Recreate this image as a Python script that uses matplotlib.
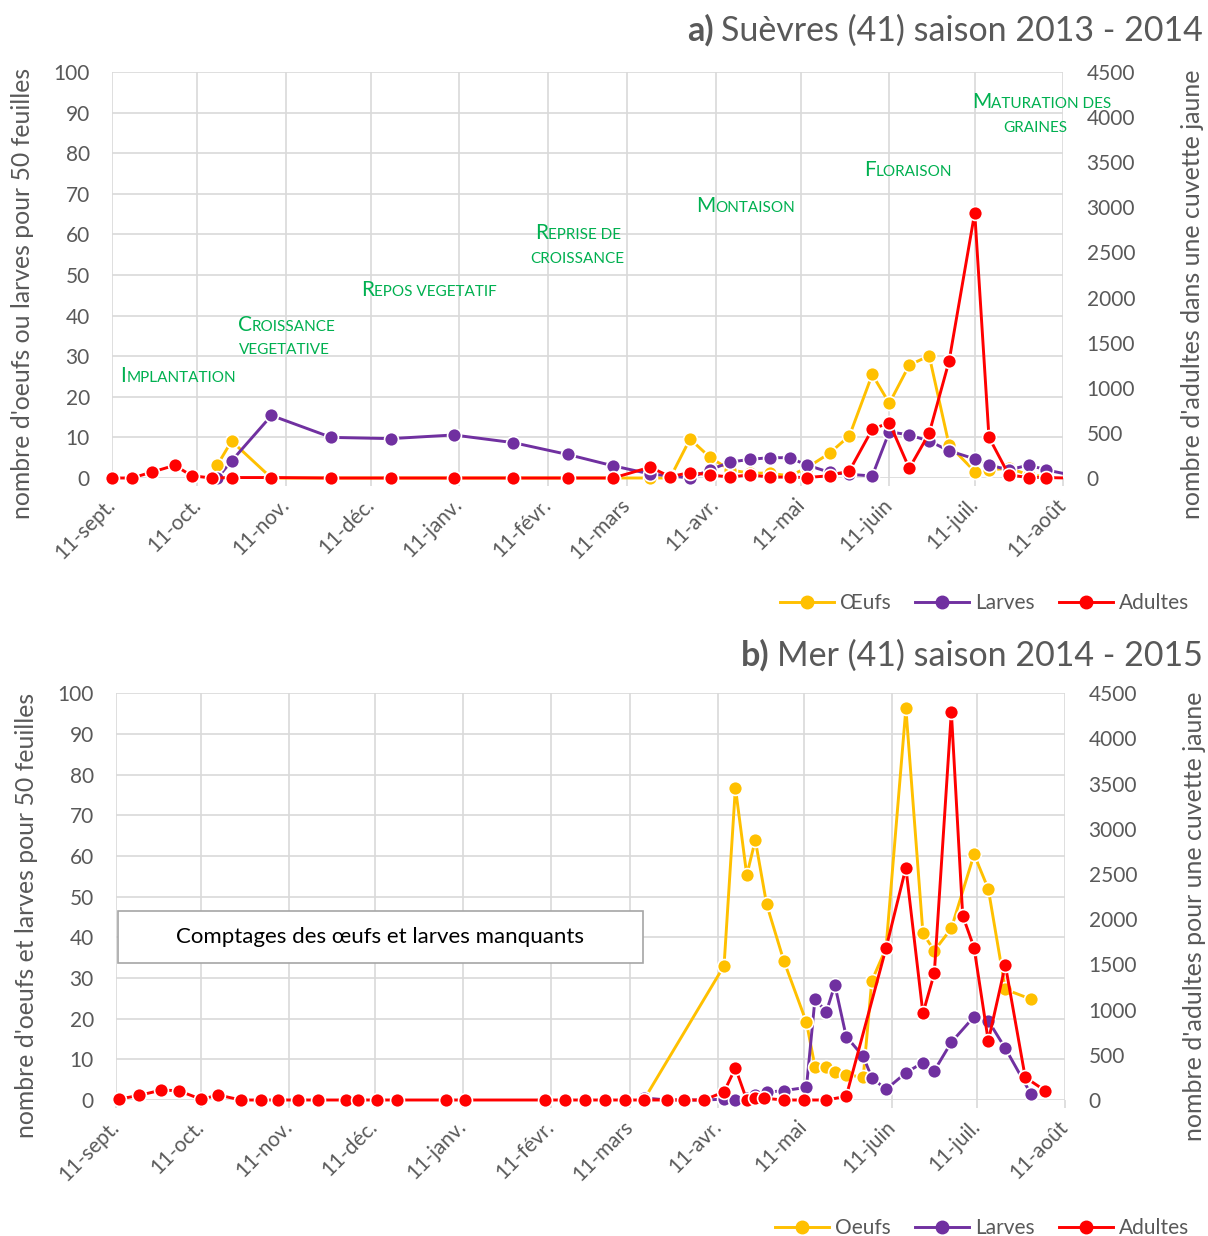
import numpy as np
import pandas as pd
import matplotlib.pyplot as plt
from matplotlib.lines import Line2D
from matplotlib.patches import Rectangle
from matplotlib.transforms import Bbox, TransformedBbox

plt.rcParams['font.family'] = ['Lato', 'DejaVu Sans']

GRIS = '#595959'
JAUNE = '#FFC000'
VIOLET = '#7030A0'
ROUGE = '#FF0000'
VERT = '#00B050'
GRILLE = '#D9D9D9'

mois = ['11-sept.', '11-oct.', '11-nov.', '11-déc.', '11-janv.', '11-févr.',
        '11-mars', '11-avr.', '11-mai', '11-juin', '11-juil.', '11-août']

# ---- a) Suèvres 2013 - 2014
a_oeufs_dates = ['2013-10-18', '2013-10-23', '2013-11-06', '2013-11-27', '2013-12-18', '2014-01-09',
                 '2014-01-30', '2014-02-18', '2014-03-06', '2014-03-19', '2014-03-26', '2014-04-02',
                 '2014-04-09', '2014-04-16', '2014-04-23', '2014-04-30', '2014-05-07', '2014-05-13',
                 '2014-05-21', '2014-05-28', '2014-06-05', '2014-06-11', '2014-06-18', '2014-06-25',
                 '2014-07-02', '2014-07-11', '2014-07-16', '2014-07-23', '2014-07-30', '2014-08-05']
a_oeufs = [3.2, 9.1, 0, 0, 0, 0, 0, 0, 0, 0, 0, 9.6, 5.1, 2.0, 1.2, 1.2, 0.5, 2.5,
           6.1, 10.4, 25.5, 18.4, 27.8, 30.1, 8.1, 1.6, 2.0, 2.4, 0.8, 0.3]

a_larves_dates = a_oeufs_dates + ['2014-08-12']
a_larves = [0, 4.2, 15.4, 10.0, 9.7, 10.6, 8.7, 5.8, 3.0, 1.0, 0.5, 0, 2.0, 3.9, 4.6, 5.0, 5.0, 3.2,
            1.4, 0.9, 0.5, 11.4, 10.6, 9.1, 6.7, 4.7, 3.2, 2.0, 3.2, 2.0, 1.0]

a_adultes_dates = ['2013-09-11', '2013-09-18', '2013-09-25', '2013-10-03', '2013-10-09', '2013-10-16',
                   '2013-10-23', '2013-11-06', '2013-11-27', '2013-12-18', '2014-01-09', '2014-01-30',
                   '2014-02-18', '2014-03-06', '2014-03-19', '2014-03-26', '2014-04-02', '2014-04-09',
                   '2014-04-16', '2014-04-23', '2014-04-30', '2014-05-07', '2014-05-13', '2014-05-21',
                   '2014-05-28', '2014-06-05', '2014-06-11', '2014-06-18', '2014-06-25', '2014-07-02',
                   '2014-07-11', '2014-07-16', '2014-07-23', '2014-07-30', '2014-08-05', '2014-08-12']
a_adultes = [0, 0, 65, 140, 25, 0, 5, 5, 0, 0, 0, 0, 0, 0, 120, 15, 60, 35, 10, 35, 10, 10,
             5, 25, 80, 540, 613, 107, 495, 1297, 2941, 451, 33, 5, 5, 0]

# ---- b) Mer 2014 - 2015
b_oeufs_dates = ['2015-03-16', '2015-04-13', '2015-04-17', '2015-04-21', '2015-04-24', '2015-04-28',
                 '2015-05-04', '2015-05-12', '2015-05-15', '2015-05-19', '2015-05-22', '2015-05-26',
                 '2015-06-01', '2015-06-04', '2015-06-09', '2015-06-16', '2015-06-22', '2015-06-26',
                 '2015-07-02', '2015-07-10', '2015-07-15', '2015-07-21', '2015-07-30']
b_oeufs = [0.3, 33.0, 76.8, 55.3, 63.9, 48.1, 34.3, 19.1, 8.2, 8.2, 7.0, 6.1,
           5.7, 29.3, 37.3, 96.3, 41.0, 36.7, 42.2, 60.4, 51.9, 27.2, 24.8]

b_larves_dates = ['2015-03-16', '2015-03-24', '2015-03-30', '2015-04-06', '2015-04-13', '2015-04-17',
                  '2015-04-21', '2015-04-24', '2015-04-28', '2015-05-04', '2015-05-12', '2015-05-15',
                  '2015-05-19', '2015-05-22', '2015-05-26', '2015-06-01', '2015-06-04', '2015-06-09',
                  '2015-06-16', '2015-06-22', '2015-06-26', '2015-07-02', '2015-07-10', '2015-07-15',
                  '2015-07-21', '2015-07-30']
b_larves = [0.5, 0, 0, 0, 0.2, 0, 0.5, 1.2, 1.9, 2.3, 3.1, 24.8, 21.7, 28.3, 15.6, 10.7,
            5.5, 2.6, 6.7, 9.2, 7.2, 14.2, 20.5, 19.5, 12.7, 1.5]

b_adultes_dates = ['2014-09-12', '2014-09-19', '2014-09-27', '2014-10-03', '2014-10-11', '2014-10-17',
                   '2014-10-25', '2014-11-01', '2014-11-07', '2014-11-14', '2014-11-21', '2014-12-01',
                   '2014-12-05', '2014-12-12', '2014-12-19', '2015-01-05', '2015-01-12', '2015-02-09',
                   '2015-02-16', '2015-02-23', '2015-03-02', '2015-03-09', '2015-03-16', '2015-03-24',
                   '2015-03-30', '2015-04-06', '2015-04-13', '2015-04-17', '2015-04-21', '2015-04-24',
                   '2015-04-27', '2015-05-04', '2015-05-11', '2015-05-19', '2015-05-26', '2015-06-09',
                   '2015-06-16', '2015-06-22', '2015-06-26', '2015-07-02', '2015-07-06', '2015-07-10',
                   '2015-07-15', '2015-07-21', '2015-07-28', '2015-08-04']
b_adultes = [10, 50, 110, 103, 8, 55] + [0] * 20 + [90, 355, 0, 20, 20, 0, 0, 0, 40,
             1678, 2570, 959, 1401, 4295, 2039, 1685, 653, 1493, 251, 103]

W, H = 1208, 1236
fig = plt.figure(figsize=(W / 100, H / 100), dpi=100)


def serie(ax, dates, vals, couleur, fin):
    d = pd.to_datetime(dates)
    v = np.array(vals, dtype=float)
    ligne, = ax.plot(d, v, '-', color=couleur, lw=2.1, zorder=3)
    ligne.set_clip_box(TransformedBbox(Bbox([[0, -0.1], [1, 1.1]]), ax.transAxes))
    ok = d <= fin
    ax.plot(d[ok], v[ok], 'o', color=couleur, ms=10, mec='white', mew=1.2,
            clip_on=False, zorder=4)


def panneau(rect, debut, oeufs, larves, adultes, lab_g, lab_d, lab_oeufs, leg_y):
    ax = fig.add_axes(rect)
    axr = ax.twinx()
    deb = pd.Timestamp(debut)
    ticks = pd.date_range(deb, periods=12, freq=pd.DateOffset(months=1))
    fin = ticks[-1]
    serie(ax, *oeufs, JAUNE, fin)
    serie(ax, *larves, VIOLET, fin)
    serie(axr, *adultes, ROUGE, fin)
    for a in (ax, axr):
        a.set_xlim(deb, fin)
        for s in a.spines.values():
            s.set_visible(False)
    ax.set_ylim(0, 100)
    ax.set_yticks(range(0, 101, 10))
    axr.set_ylim(0, 4500)
    axr.set_yticks(range(0, 4501, 500))
    ax.set_xticks(ticks)
    ax.set_xticklabels(mois, rotation=45, ha='right', va='center', rotation_mode='anchor')
    ax.grid(True, color=GRILLE, lw=1.2)
    ax.set_axisbelow(True)
    ax.tick_params(axis='x', length=6, color=GRILLE, width=1.2, pad=11, labelsize=15, labelcolor=GRIS)
    ax.tick_params(axis='y', length=0, pad=16, labelsize=15, labelcolor=GRIS)
    axr.tick_params(axis='y', length=0, pad=17, labelsize=15, labelcolor=GRIS)
    ax.set_ylabel(lab_g, fontsize=17.8, color=GRIS)
    axr.set_ylabel(lab_d, fontsize=18, color=GRIS)
    ax.yaxis.set_label_coords(-0.082, 0.455)
    axr.yaxis.set_label_coords(1.124, 0.452)
    poignees = [Line2D([], [], color=c, lw=2.1, marker='o', ms=9, mec=c) for c in (JAUNE, VIOLET, ROUGE)]
    fig.legend(poignees, [lab_oeufs, 'Larves', 'Adultes'], ncol=3, frameon=False,
               loc='center right', bbox_to_anchor=(1200 / W, 1 - leg_y / H),
               fontsize=15, labelcolor=GRIS, handlelength=2.6, handletextpad=0.3,
               columnspacing=1.15, borderpad=0)
    return ax


def titre(lettre, texte, y):
    t = fig.text(1203 / W, 1 - y / H, texte, ha='right', va='baseline', fontsize=24.5, color=GRIS)
    w = t.get_window_extent(renderer=fig.canvas.get_renderer()).width
    fig.text(1203 / W - (w + 8) / W, 1 - y / H, lettre, ha='right', va='baseline',
             fontsize=24.5, color=GRIS, fontweight='bold')


def petites_caps(ax, x, y, texte, premiere=True):
    if premiere:
        t = ax.text(x, y, texte[0], transform=ax.transAxes, fontsize=15, color=VERT, va='baseline')
        w = t.get_window_extent(renderer=fig.canvas.get_renderer()).width
        ax.annotate(texte[1:].upper(), xy=(x, y), xycoords='axes fraction', xytext=(w, 0),
                    textcoords='offset pixels', fontsize=11, color=VERT, va='baseline')
    else:
        ax.text(x, y, texte.upper(), transform=ax.transAxes, fontsize=11, color=VERT, va='baseline')


# panneau a
ax_a = panneau([112 / W, 1 - 478 / H, 951 / W, 406 / H], '2013-09-11',
               (a_oeufs_dates, a_oeufs), (a_larves_dates, a_larves), (a_adultes_dates, a_adultes),
               "nombre d'oeufs ou larves pour 50 feuilles",
               "nombre d'adultes dans une cuvette jaune", 'Œufs', 603)
titre('a)', 'Suèvres (41) saison 2013 - 2014', 41)

petites_caps(ax_a, 0.009, 0.237, 'Implantation')
petites_caps(ax_a, 0.132, 0.362, 'Croissance')
petites_caps(ax_a, 0.134, 0.305, 'vegetative', premiere=False)
petites_caps(ax_a, 0.262, 0.448, 'Repos vegetatif')
petites_caps(ax_a, 0.445, 0.589, 'Reprise de')
petites_caps(ax_a, 0.4395, 0.530, 'croissance', premiere=False)
petites_caps(ax_a, 0.614, 0.654, 'Montaison')
petites_caps(ax_a, 0.791, 0.745, 'Floraison')
petites_caps(ax_a, 0.904, 0.911, 'Maturation des')
petites_caps(ax_a, 0.937, 0.853, 'graines', premiere=False)

# panneau b
ax_b = panneau([116 / W, 1 - 1100 / H, 949 / W, 406.7 / H], '2014-09-11',
               (b_oeufs_dates, b_oeufs), (b_larves_dates, b_larves), (b_adultes_dates, b_adultes),
               "nombre d'oeufs et larves pour 50 feuilles",
               "nombre d'adultes pour une cuvette jaune", 'Oeufs', 1228)
titre('b)', 'Mer (41) saison 2014 - 2015', 666)

ax_b.add_patch(Rectangle((0.002, 0.337), 0.553, 0.128, transform=ax_b.transAxes,
                         facecolor='white', edgecolor='#A6A6A6', lw=1.2, zorder=5))
ax_b.text(0.002 + 0.553 / 2, 0.337 + 0.128 / 2, 'Comptages des œufs et larves manquants',
          transform=ax_b.transAxes, ha='center', va='center', fontsize=16, color='black', zorder=6)

fig.savefig('out.png', dpi=100)
